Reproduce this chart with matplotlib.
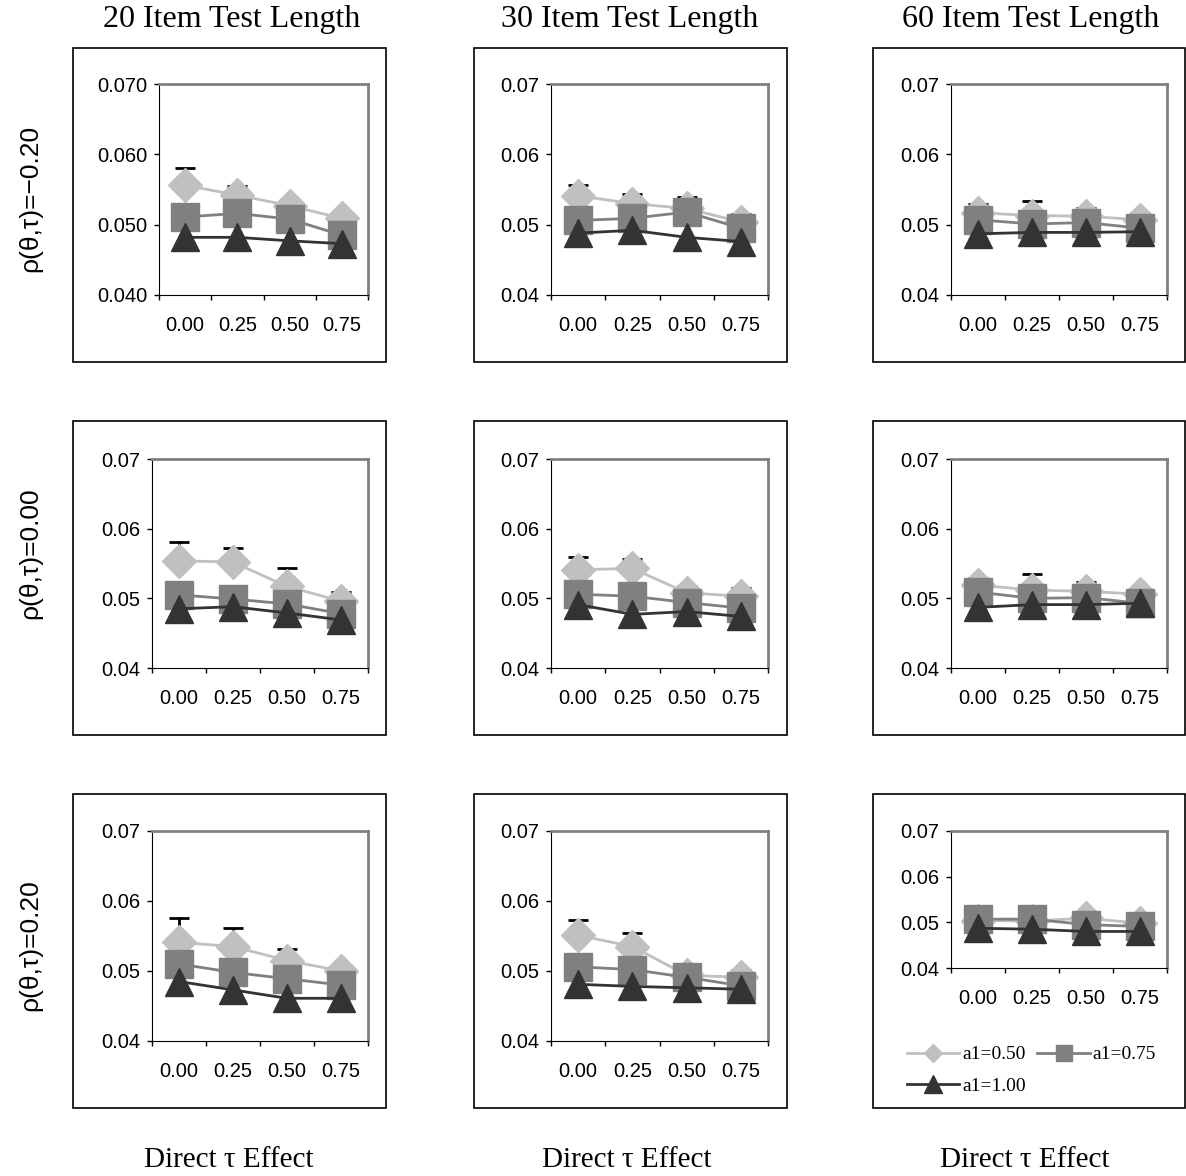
import numpy as np
import matplotlib
matplotlib.use('Agg')
import matplotlib.pyplot as plt
from matplotlib.patches import Rectangle
from matplotlib.lines import Line2D
from matplotlib.ticker import FormatStrFormatter

W, H = 1186, 1176

tau_labels = ['0.00', '0.25', '0.50', '0.75']
test_lengths = ['20 Item Test Length', '30 Item Test Length', '60 Item Test Length']
rho_labels = ['ρ(θ,τ)=−0.20', 'ρ(θ,τ)=0.00', 'ρ(θ,τ)=0.20']
series_names = ['a1=0.50', 'a1=0.75', 'a1=1.00']

# values per [row][col], 4 tau levels each
a050 = [
    [[0.0556, 0.0542, 0.0527, 0.0509], [0.0541, 0.0530, 0.0523, 0.0504], [0.0517, 0.0513, 0.0512, 0.0507]],
    [[0.0554, 0.0552, 0.0517, 0.0496], [0.0541, 0.0543, 0.0508, 0.0503], [0.0519, 0.0512, 0.0510, 0.0506]],
    [[0.0541, 0.0535, 0.0515, 0.0500], [0.0551, 0.0535, 0.0494, 0.0491], [0.0504, 0.0503, 0.0509, 0.0498]],
]
# upper end of the error bars (a1=0.50)
a050_upper = [
    [[0.0581, 0.0555, 0.0534, 0.0514], [0.0556, 0.0544, 0.0540, 0.0515], [0.0529, 0.0534, 0.0523, 0.0516]],
    [[0.0581, 0.0572, 0.0543, 0.0509], [0.0560, 0.0557, 0.0518, 0.0515], [0.0529, 0.0535, 0.0524, 0.0515]],
    [[0.0576, 0.0561, 0.0531, 0.0503], [0.0573, 0.0554, 0.0507, 0.0502], [0.0504, 0.0503, 0.0509, 0.0498]],
]
a075 = [
    [[0.0511, 0.0516, 0.0508, 0.0485], [0.0506, 0.0509, 0.0518, 0.0495], [0.0507, 0.0501, 0.0503, 0.0495]],
    [[0.0505, 0.0499, 0.0492, 0.0478], [0.0506, 0.0503, 0.0494, 0.0486], [0.0509, 0.0500, 0.0501, 0.0493]],
    [[0.0510, 0.0498, 0.0489, 0.0480], [0.0506, 0.0502, 0.0491, 0.0479], [0.0507, 0.0507, 0.0495, 0.0491]],
]
a100 = [
    [[0.0482, 0.0482, 0.0477, 0.0473], [0.0488, 0.0492, 0.0482, 0.0476], [0.0487, 0.0489, 0.0489, 0.0490]],
    [[0.0485, 0.0488, 0.0479, 0.0469], [0.0491, 0.0477, 0.0481, 0.0474], [0.0487, 0.0491, 0.0491, 0.0493]],
    [[0.0485, 0.0473, 0.0461, 0.0461], [0.0481, 0.0478, 0.0476, 0.0474], [0.0487, 0.0485, 0.0480, 0.0480]],
]

light, mid, dark = '#C0C0C0', '#808080', '#333333'
sans = 'Liberation Sans'
serif = 'Liberation Serif'

fig = plt.figure(figsize=(W / 100, H / 100), dpi=100)


def fx(px):
    return px / W


def fy(py):
    return 1 - py / H


# panel frames (pixels)
box_x = [(73, 386), (474, 787), (873, 1185)]
box_y = [(48, 362), (421, 735), (794, 1108)]
for (x0, x1) in box_x:
    for (y0, y1) in box_y:
        fig.add_artist(Rectangle((fx(x0), fy(y1)), fx(x1) - fx(x0), fy(y0) - fy(y1),
                                 transform=fig.transFigure, fill=False, ec='black', lw=1.2))

ax_x = [(152, 368), (551, 768), (951, 1167)]
ax_y = [(84, 295), (459, 668), (831, 1041)]

x = np.arange(4) + 0.5
for r in range(3):
    for c in range(3):
        left, right = ax_x[c]
        top, bottom = ax_y[r]
        if r == 0 and c == 0:
            left = 159
        if r == 2 and c == 2:
            bottom = 968
        ax = fig.add_axes([fx(left), fy(bottom), fx(right) - fx(left), fy(top) - fy(bottom)])

        v1 = np.array(a050[r][c])
        up = np.array(a050_upper[r][c]) - v1
        if up.max() > 0:
            ax.errorbar(x, v1, yerr=[np.zeros(4), up], fmt='none', ecolor='black',
                        elinewidth=2, capsize=7, capthick=2, zorder=1)
        ax.plot(x, v1, color=light, lw=2, marker='D', ms=17, mec=light, zorder=2)
        ax.plot(x, a075[r][c], color=mid, lw=2, marker='s', ms=20, mec=mid, zorder=3)
        ax.plot(x, a100[r][c], color=dark, lw=2, marker='^', ms=20, mec=dark, zorder=4)

        ax.set_xlim(0, 4)
        ax.set_ylim(0.04, 0.07)
        ax.set_yticks([0.04, 0.05, 0.06, 0.07])
        ax.yaxis.set_major_formatter(FormatStrFormatter('%.3f' if (r == 0 and c == 0) else '%.2f'))
        ax.set_xticks(np.arange(5))
        ax.set_xticklabels([])
        ax.set_xticks(x, minor=True)
        ax.set_xticklabels(tau_labels, minor=True)
        ax.tick_params(axis='x', which='minor', length=0, pad=15)
        ax.tick_params(axis='both', which='major', direction='out', length=3.5, width=1, pad=5)
        for lab in ax.get_xticklabels(minor=True) + ax.get_yticklabels():
            lab.set_fontfamily(sans)
            lab.set_fontsize(14.5)
        ax.spines['top'].set_color(mid)
        ax.spines['right'].set_color(mid)
        ax.spines['top'].set_linewidth(2)
        ax.spines['right'].set_linewidth(2)
        ax.spines['left'].set_color('black')
        ax.spines['bottom'].set_color('black')
        ax.patch.set_alpha(0)

# column titles and bottom labels
title_x = [232, 630, 1031]
for c in range(3):
    fig.text(fx(title_x[c]), fy(20), test_lengths[c], ha='center', va='center',
             family=serif, fontsize=23)
bottom_x = [229, 627, 1025]
for c in range(3):
    fig.text(fx(bottom_x[c]), fy(1160), 'Direct τ Effect', ha='center', va='center',
             family=serif, fontsize=21)

row_y = [198, 553, 945]
for r in range(3):
    fig.text(fx(30), fy(row_y[r]), rho_labels[r], ha='center', va='center', rotation=90,
             family=sans, fontsize=19)

# legend
handles = [
    Line2D([], [], color=light, lw=2, marker='D', ms=9, mec=light),
    Line2D([], [], color=dark, lw=2, marker='^', ms=13, mec=dark),
    Line2D([], [], color=mid, lw=2, marker='s', ms=11, mec=mid),
]
labels = [series_names[0], series_names[2], series_names[1]]
fig.legend(handles, labels, loc='upper left', bbox_to_anchor=(fx(897), fy(1036)), ncol=2,
           frameon=False, borderpad=0, handlelength=2.7, handletextpad=0.15,
           columnspacing=0.6, labelspacing=0.7, prop={'family': serif, 'size': 14})

fig.savefig('out.png', dpi=100)
